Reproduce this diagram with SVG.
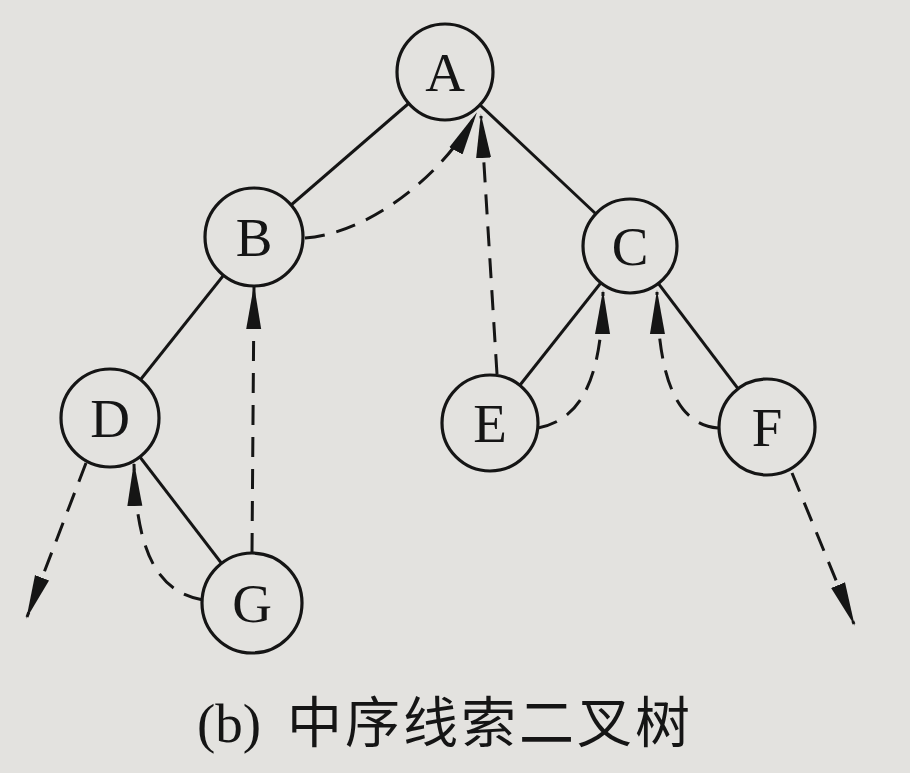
<svg xmlns="http://www.w3.org/2000/svg" width="910" height="773" viewBox="0 0 910 773">
<style>
.edge{stroke:#151515;stroke-width:3;fill:none}
.thread{stroke:#151515;stroke-width:3;fill:none;stroke-dasharray:20 12;marker-end:url(#ah)}
.node circle{fill:#e3e2df;stroke:#151515;stroke-width:3.2}
.node text{font-family:"Liberation Serif","Times New Roman",serif;font-size:55px;fill:#151515;text-anchor:middle}
.cap{font-size:55px;fill:#151515}
.lat{font-family:"Liberation Serif","Times New Roman",serif}
.cjk{font-family:"Noto Sans CJK SC","Noto Sans",sans-serif}
</style>
<defs>
<marker id="ah" markerUnits="userSpaceOnUse" markerWidth="44" markerHeight="18" viewBox="0 0 44 18" refX="42" refY="9" orient="auto">
<path d="M0,1.5 L44,9 L0,16.5 Z" fill="#151515"/>
</marker>
</defs>
<rect width="910" height="773" fill="#e3e2df"/>
<g id="connectors">
<line class="edge" x1="445" y1="72" x2="254" y2="237"/>
<line class="edge" x1="445" y1="72" x2="630" y2="246"/>
<line class="edge" x1="254" y1="237" x2="110" y2="418"/>
<line class="edge" x1="630" y1="246" x2="490" y2="423"/>
<line class="edge" x1="630" y1="246" x2="767" y2="427"/>
<line class="edge" x1="110" y1="418" x2="252" y2="603"/>
<path class="thread" d="M305,238 C365,234 440,180 476,114"/>
<path class="thread" d="M497,374 L481,116"/>
<path class="thread" d="M538,428 C578,420 602,385 603,292"/>
<path class="thread" d="M718,428 C680,425 658,385 657,292"/>
<path class="thread" d="M252,553 L254,287"/>
<path class="thread" d="M203,600 C165,593 136,565 134,464"/>
<path class="thread" d="M86,463 L27,617"/>
<path class="thread" d="M792,473 L854,624"/>
</g>
<g id="A" class="node"><circle cx="445" cy="72" r="48"/><text x="445" y="91">A</text></g>
<g id="B" class="node"><circle cx="254" cy="237" r="49"/><text x="254" y="256">B</text></g>
<g id="C" class="node"><circle cx="630" cy="246" r="47"/><text x="630" y="265">C</text></g>
<g id="D" class="node"><circle cx="110" cy="418" r="49"/><text x="110" y="437">D</text></g>
<g id="E" class="node"><circle cx="490" cy="423" r="48"/><text x="490" y="442">E</text></g>
<g id="F" class="node"><circle cx="767" cy="427" r="48"/><text x="767" y="446">F</text></g>
<g id="G" class="node"><circle cx="252" cy="603" r="50"/><text x="252" y="622">G</text></g>
<text class="cap" y="742"><tspan class="lat" x="197">(b)</tspan><tspan class="cjk" x="287" letter-spacing="3">中序线索二叉树</tspan></text>
</svg>
